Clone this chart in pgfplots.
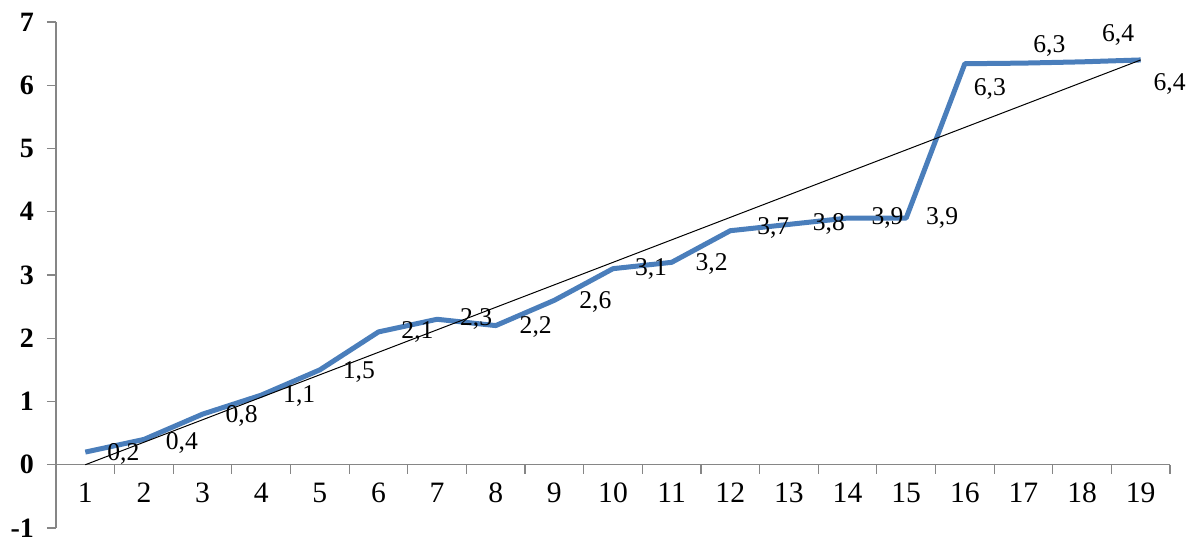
\documentclass[border=0pt]{standalone}
\usepackage{fontspec}
\setmainfont{Liberation Serif}
\usepackage{pgfplots}
\usepackage{pgfplotstable}
\pgfplotsset{compat=1.18}

\definecolor{lineblue}{RGB}{74,126,187}
\definecolor{axisgray}{RGB}{134,134,134}

% x, value, printed label, label offset (pt)
\pgfplotstableread{
x  y     lab  dx    dy
1  0.2   0,2  19.0  -1
2  0.4   0,4  19.0  -2
3  0.8   0,8  19.5  -1
4  1.1   1,1  19.0  -0.5
5  1.5   1,5  19.5  -1
6  2.1   2,1  19.5  0
7  2.3   2,3  19.5  0
8  2.2   2,2  20.0  -0.5
9  2.6   2,6  20.5  -1
10 3.1   3,1  19.0  0
11 3.2   3,2  20.0  -1
12 3.7   3,7  21.5  1.5
13 3.8   3,8  20.0  0
14 3.9   3,9  20.0  0
15 3.9   3,9  18.0  0
16 6.34  6,3  12.5  -12.5
17 6.35  6,3  13.0  8.5
18 6.37  6,4  18.0  13.5
19 6.40  6,4  14.5  -12
}\valuedata

\begin{document}
\begin{tikzpicture}
\begin{axis}[
    name=ax,
    scale only axis,
    width=557pt,
    height=253pt,
    xmin=0.5, xmax=19.5,
    ymin=-1, ymax=7,
    axis x line=middle,
    axis y line=left,
    axis line style={-, axisgray, line width=0.6pt},
    tick style={axisgray, line width=0.6pt},
    tick align=outside,
    major tick length=4.5pt,
    xtick={0.5,1.5,...,19.5},
    xticklabels={},
    extra x ticks={1,2,...,19},
    extra x tick labels={1,2,3,4,5,6,7,8,9,10,11,12,13,14,15,16,17,18,19},
    extra x tick style={major tick length=0pt},
    ytick={-1,0,...,7},
    /pgf/number format/assume math mode=true,
    xticklabel style={font=\fontsize{14.8}{16}\selectfont, yshift=-5.5pt},
    yticklabel style={font=\fontsize{14}{16}\selectfont\bfseries, xshift=-3pt},
    clip=false,
]

\addplot[lineblue, line width=2.5pt, line join=round] table[x=x, y=y] {\valuedata};

\addplot[black, line width=0.5pt] coordinates {(1,0) (19,6.4)};

\addplot[draw=none, mark=none,
    point meta=explicit symbolic,
    visualization depends on={\thisrow{dx} \as \dx},
    visualization depends on={\thisrow{dy} \as \dy},
    nodes near coords,
    nodes near coords style={anchor=center, inner sep=0pt,
        xshift=\dx pt, yshift=\dy pt,
        font=\fontsize{12.8}{14}\selectfont},
] table[x=x, y=y, meta=lab] {\valuedata};

\end{axis}
\pgfresetboundingbox
\path[use as bounding box] ([shift={(-28pt,-7pt)}]ax.south west)
    rectangle ([shift={(11pt,11pt)}]ax.north east);
\end{tikzpicture}
\end{document}
